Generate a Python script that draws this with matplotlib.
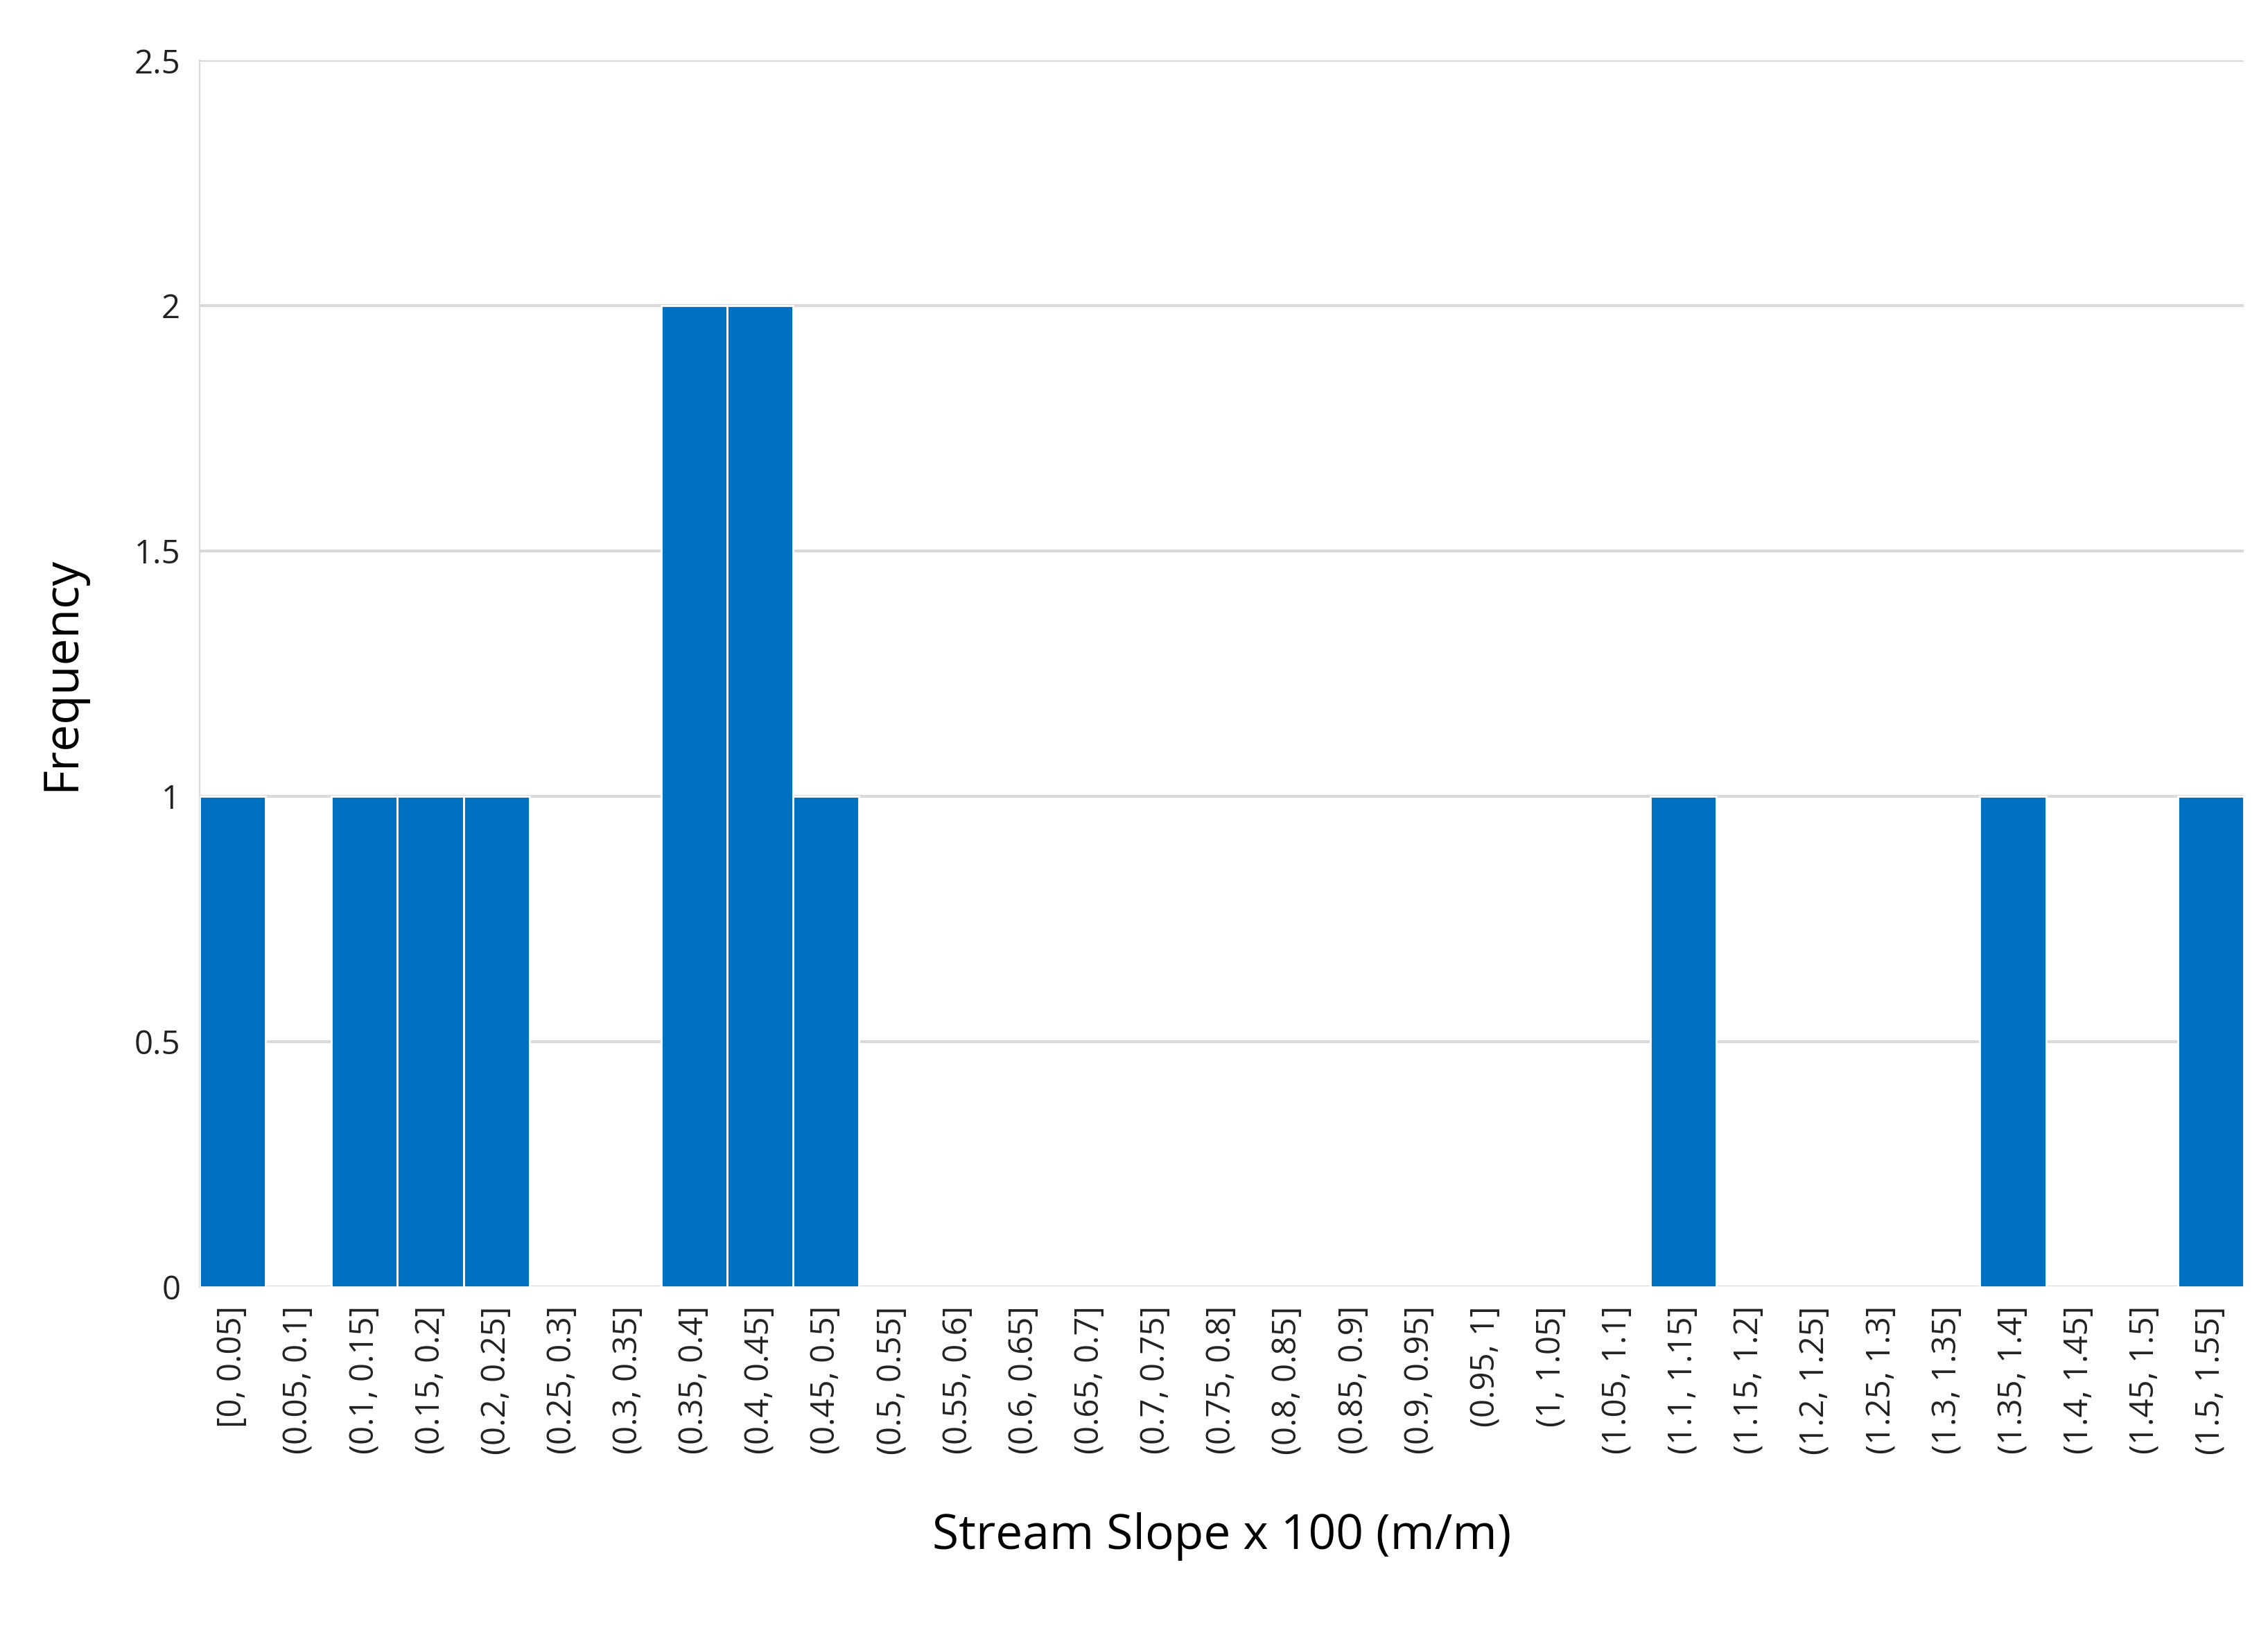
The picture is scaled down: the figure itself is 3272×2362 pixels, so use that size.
import matplotlib
matplotlib.use("Agg")
import matplotlib.pyplot as plt

categories = ["[0, 0.05]", "(0.05, 0.1]", "(0.1, 0.15]", "(0.15, 0.2]", "(0.2, 0.25]", "(0.25, 0.3]",
              "(0.3, 0.35]", "(0.35, 0.4]", "(0.4, 0.45]", "(0.45, 0.5]", "(0.5, 0.55]", "(0.55, 0.6]",
              "(0.6, 0.65]", "(0.65, 0.7]", "(0.7, 0.75]", "(0.75, 0.8]", "(0.8, 0.85]", "(0.85, 0.9]",
              "(0.9, 0.95]", "(0.95, 1]", "(1, 1.05]", "(1.05, 1.1]", "(1.1, 1.15]", "(1.15, 1.2]",
              "(1.2, 1.25]", "(1.25, 1.3]", "(1.3, 1.35]", "(1.35, 1.4]", "(1.4, 1.45]", "(1.45, 1.5]",
              "(1.5, 1.55]"]
frequency = [1, 0, 1, 1, 1, 0, 0, 2, 2, 1, 0, 0, 0, 0, 0, 0, 0, 0, 0, 0, 0, 0, 1, 0, 0, 0, 0, 1, 0, 0, 1]
yticks = [0, 0.5, 1, 1.5, 2, 2.5]

plt.rcParams['font.family'] = ['Open Sans', 'DejaVu Sans']
fig = plt.figure(figsize=(16.365, 11.81), dpi=200)
ax = fig.add_axes([0.088, 0.214, 0.901, 0.749])
x = list(range(len(categories)))
ax.bar(x, frequency, width=1.0, color="#0070C0", edgecolor="white", linewidth=1.0, zorder=3)
ax.set_xlim(-0.5, len(categories) - 0.5)
ax.set_ylim(0, 2.5)
ax.set_yticks(yticks)
ax.set_yticklabels(["0", "0.5", "1", "1.5", "2", "2.5"], fontsize=17, color="#222222")
ax.set_xticks(x)
ax.set_xticklabels(categories, rotation=90, fontsize=17, color="#222222")
ax.grid(axis="y", color="#D9D9D9", linewidth=1.5, zorder=0)
for s in ["top", "right", "bottom"]:
    ax.spines[s].set_visible(False)
ax.spines["left"].set_color("#D9D9D9")
ax.tick_params(length=0, pad=10)
ax.set_ylabel("Frequency", fontsize=25, labelpad=25)
ax.set_xlabel("Stream Slope x 100 (m/m)", fontsize=25, labelpad=30)
fig.savefig("out.png", dpi=200, facecolor="white")
